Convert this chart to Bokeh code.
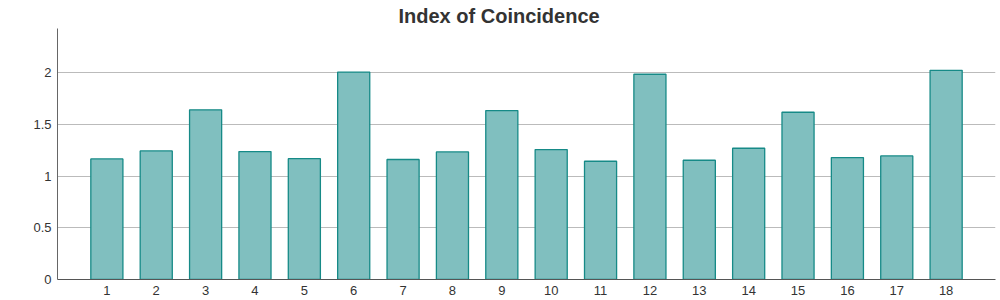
from bokeh.plotting import figure
from bokeh.models import Range1d, FixedTicker, NumeralTickFormatter
from bokeh.embed import file_html
from bokeh.resources import INLINE

keys = list(range(1, 19))
key_labels = [str(k) for k in keys]
ioc = [1.166, 1.243, 1.640, 1.237, 1.168, 2.005, 1.160, 1.233, 1.633, 1.256,
       1.143, 1.984, 1.153, 1.269, 1.617, 1.179, 1.195, 2.022]
y_ticks = [0, 0.5, 1, 1.5, 2]
title_text = "Index of Coincidence"

FONT = "Liberation Sans"

p = figure(width=1000, height=300, output_backend="svg", toolbar_location=None,
           x_range=Range1d(0, len(keys) + 1), y_range=Range1d(0, max(ioc) * 1.2),
           min_border_left=57, min_border_right=5, min_border_top=28, min_border_bottom=21)
p.outline_line_color = None
p.background_fill_color = "white"
p.border_fill_color = "white"

p.title.text = title_text
p.title.align = "left"
p.title.offset = 341
p.title.standoff = 0
p.title.vertical_align = "top"
p.title.text_font = FONT
p.title.text_font_size = "20px"
p.title.text_font_style = "bold"
p.title.text_color = "#333333"

p.vbar(x=keys, top=ioc, width=0.65, bottom=0,
       fill_color="#80bfbf", line_color="#168a87", line_width=1.3)

# axes
xa = p.xaxis[0]
xa.ticker = FixedTicker(ticks=keys)
xa.major_label_overrides = {k: s for k, s in zip(keys, key_labels)}
xa.major_tick_line_color = None
xa.minor_tick_line_color = None
xa.major_tick_out = 0
xa.major_tick_in = 0
xa.minor_tick_out = 0
xa.axis_line_color = "#555555"
xa.major_label_text_font = FONT
xa.major_label_text_font_size = "13px"
xa.major_label_text_color = "#333333"
xa.major_label_standoff = 6

ya = p.yaxis[0]
ya.ticker = FixedTicker(ticks=y_ticks)
ya.formatter = NumeralTickFormatter(format="0.[0]")
ya.major_tick_line_color = None
ya.minor_tick_line_color = None
ya.major_tick_out = 0
ya.major_tick_in = 0
ya.minor_tick_out = 0
ya.axis_line_color = "#666666"
ya.major_label_text_font = FONT
ya.major_label_text_font_size = "13px"
ya.major_label_text_color = "#333333"
ya.major_label_standoff = 6

p.xgrid.grid_line_color = None
p.ygrid.ticker = FixedTicker(ticks=y_ticks)
p.ygrid.grid_line_color = "#bbbbbb"
p.ygrid.grid_line_width = 1

open("out.html", "w").write(file_html(p, INLINE))
